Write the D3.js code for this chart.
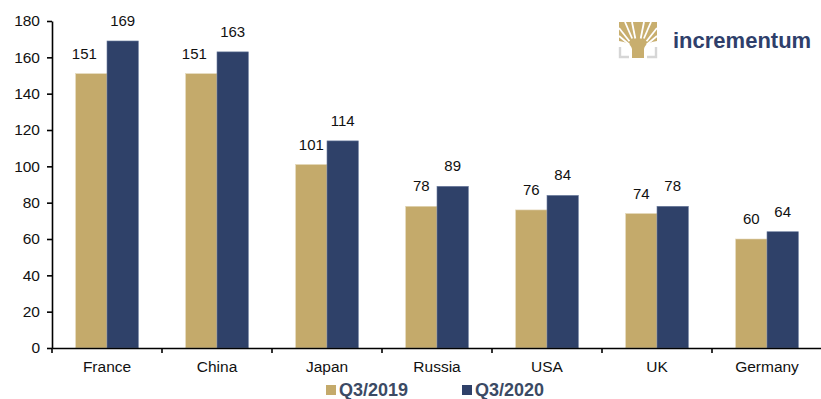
<!DOCTYPE html>
<html>
<head>
<meta charset="utf-8">
<script src="https://cdn.jsdelivr.net/npm/d3@7"></script>
<style>
  body { margin: 0; background: #fff; }
  svg { display: block; font-family: "Liberation Sans", Arial, sans-serif; }
</style>
</head>
<body>
<div id="chart"></div>
<script>
const countries = ["France", "China", "Japan", "Russia", "USA", "UK", "Germany"];
const seriesNames = ["Q3/2019", "Q3/2020"];
const q3_2019 = [151, 151, 101, 78, 76, 74, 60];
const q3_2020 = [169, 163, 114, 89, 84, 78, 64];
const yTicks = [0, 20, 40, 60, 80, 100, 120, 140, 160, 180];

const W = 821, H = 399;
const margin = { top: 21, right: -1, bottom: 51, left: 52 };
const colors = ["#C4AA6B", "#2F4169"];

const svg = d3.select("#chart").append("svg")
    .attr("width", W)
    .attr("height", H);

// one slot per country, bars sit in the middle of it
const slot = d3.scaleBand().domain(countries).range([margin.left, W - margin.right]);

const x = d3.scaleBand()
    .domain(countries)
    .range([margin.left, W - margin.right])
    .paddingInner(0.43)
    .paddingOuter(0.215);

const xs = d3.scaleBand()
    .domain(seriesNames)
    .range([0, x.bandwidth()]);

const y = d3.scaleLinear()
    .domain([0, 180])
    .range([H - margin.bottom, margin.top]);

const rows = countries.map((c, i) => ({ country: c, values: [q3_2019[i], q3_2020[i]] }));

// bars
const group = svg.append("g").selectAll("g")
    .data(rows)
    .enter().append("g")
    .attr("transform", d => `translate(${x(d.country)},0)`);

group.selectAll("rect")
    .data(d => d.values.map((v, k) => ({ key: seriesNames[k], value: v, k })))
    .enter().append("rect")
    .attr("x", d => xs(d.key))
    .attr("y", d => y(d.value))
    .attr("width", xs.bandwidth())
    .attr("height", d => y(0) - y(d.value))
    .attr("fill", d => colors[d.k])
    .attr("stroke", d => d.k === 1 ? "#6B7C9E" : "#E3D7B8")
    .attr("stroke-width", 0.6);

// the tall left-hand labels are nudged left in the original, like a manual tweak
group.selectAll("text")
    .data(d => d.values.map((v, k) => ({ key: seriesNames[k], value: v, k })))
    .enter().append("text")
    .attr("x", d => xs(d.key) + xs.bandwidth() / 2 - (d.k === 0 && d.value > 140 ? 7 : 0))
    .attr("y", d => y(d.value) - 15)
    .attr("text-anchor", "middle")
    .style("font-size", "15px")
    .style("fill", "#111")
    .text(d => d.value);

// y axis
const yAxis = svg.append("g")
    .attr("transform", `translate(${margin.left},0)`)
    .call(d3.axisLeft(y).tickValues(yTicks).tickSize(5).tickPadding(7).tickSizeOuter(0));
yAxis.select(".domain").attr("stroke", "#000").attr("stroke-width", 1.6);
yAxis.selectAll(".tick line").attr("stroke", "#000").attr("stroke-width", 1.6);
yAxis.selectAll("text").style("font-size", "15.5px").style("fill", "#111")
    .attr("font-family", null);

// x axis
const xAxis = svg.append("g")
    .attr("transform", `translate(0,${y(0)})`)
    .call(d3.axisBottom(slot).tickSize(0).tickPadding(0));
xAxis.select(".domain").attr("stroke", "#000").attr("stroke-width", 1.6);
xAxis.selectAll("text").style("font-size", "15.5px").style("fill", "#111")
    .attr("font-family", null)
    .attr("dy", null)
    .attr("y", 24);

// category separator ticks
svg.append("g").selectAll("line")
    .data(countries)
    .enter().append("line")
    .attr("x1", d => slot(d))
    .attr("x2", d => slot(d))
    .attr("y1", y(0))
    .attr("y2", y(0) + 5)
    .attr("stroke", "#000")
    .attr("stroke-width", 1.6);

// legend
const legendX = [326, 462];
const legend = svg.append("g").selectAll("g")
    .data(seriesNames)
    .enter().append("g")
    .attr("transform", (d, i) => `translate(${legendX[i]},385)`);
legend.append("rect")
    .attr("width", 10).attr("height", 10)
    .attr("fill", (d, i) => colors[i]);
legend.append("text")
    .attr("x", 13).attr("y", 11)
    .style("font-size", "18px")
    .style("font-weight", "bold")
    .style("fill", "#3B4A64")
    .text(d => d);

// logo
const logo = svg.append("g").attr("transform", "translate(619,22)");
logo.append("path")
    .attr("d", "M0,0 H38 V19 C31,20 26,22 25,27 V36 H13 V27 C12,22 7,20 0,19 Z")
    .attr("fill", "#C8AE6E");
const tips = [[0, 6], [0, 14], [6, 0], [13, 0], [25, 0], [32, 0], [38, 6], [38, 14]];
tips.forEach(([tx, ty]) => {
  const ox = 19, oy = 30;
  logo.append("line")
    .attr("x1", ox + (tx - ox) * 0.45).attr("y1", oy + (ty - oy) * 0.45)
    .attr("x2", tx).attr("y2", ty)
    .attr("stroke", "#fff").attr("stroke-width", 1.8);
});
logo.append("path")
    .attr("d", "M1,25 V35 H10 M37,25 V35 H28")
    .attr("fill", "none")
    .attr("stroke", "#D6D6D6")
    .attr("stroke-width", 2.4);
svg.append("text")
    .attr("x", 673).attr("y", 48)
    .style("font-size", "22px")
    .style("font-weight", "bold")
    .style("fill", "#2F3F6B")
    .text("incrementum");
</script>
</body>
</html>
